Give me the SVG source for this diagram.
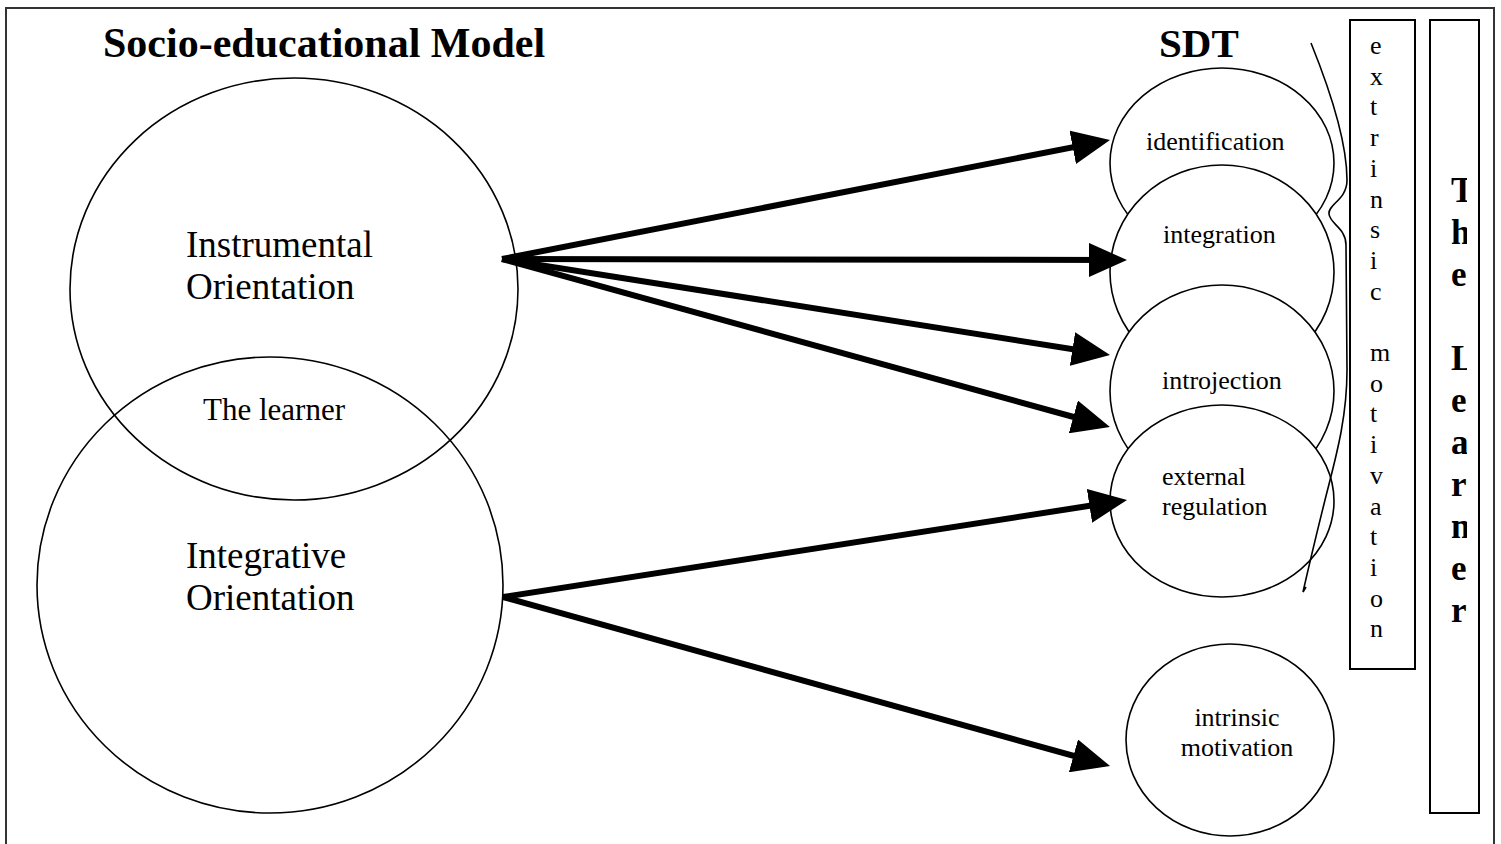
<svg xmlns="http://www.w3.org/2000/svg" width="1501" height="844" viewBox="0 0 1501 844">
<style>
text{font-family:"Liberation Serif","Times New Roman",serif;fill:#000}
.title{font-size:42px;font-weight:bold}
.big{font-size:37px}
.mid{font-size:31px}
.lbl{font-size:26px}
.vert{font-size:26px}
.vb{font-size:35px;font-weight:bold}
.ring{fill:none;stroke:#000;stroke-width:1.6}
.disc{fill:#fff;stroke:#000;stroke-width:1.6}
.box{fill:none;stroke:#000;stroke-width:2}
.arrow{stroke:#000;stroke-width:6;fill:none;marker-end:url(#head)}
</style>
<defs>
<marker id="head" markerUnits="userSpaceOnUse" markerWidth="40" markerHeight="34" refX="23" refY="17" orient="auto">
<path d="M0,0 L38,17 L0,34 Z" fill="#000"/>
</marker>
<clipPath id="learnerClip"><rect x="1431" y="20" width="36" height="793"/></clipPath>
</defs>
<rect x="6" y="8" width="1488" height="850" fill="#fff" stroke="#333" stroke-width="2"/>
<text class="title" x="103" y="57">Socio-educational Model</text>
<text class="title" x="1159" y="57" style="font-size:41px">SDT</text>

<g id="instrumental">
<ellipse class="ring" cx="294" cy="289" rx="224" ry="211"/>
<text class="big" x="186" y="257">Instrumental</text>
<text class="big" x="186" y="299">Orientation</text>
</g>
<g id="integrative">
<ellipse class="ring" cx="270" cy="585" rx="233" ry="228"/>
<text class="big" x="186" y="568">Integrative</text>
<text class="big" x="186" y="610">Orientation</text>
</g>
<g id="learner-overlap">
<text class="mid" x="203" y="420">The learner</text>
</g>

<g id="identification">
<ellipse class="disc" cx="1222" cy="163" rx="112" ry="95"/>
<text class="lbl" x="1146" y="150">identification</text>
</g>
<g id="integration">
<ellipse class="disc" cx="1222" cy="272" rx="112" ry="107"/>
<text class="lbl" x="1163" y="243">integration</text>
</g>
<g id="introjection">
<ellipse class="disc" cx="1222" cy="391" rx="112" ry="106"/>
<text class="lbl" x="1162" y="389">introjection</text>
</g>
<g id="external-regulation">
<ellipse class="disc" cx="1222" cy="501" rx="112" ry="96"/>
<text class="lbl" x="1162" y="485">external</text>
<text class="lbl" x="1162" y="515">regulation</text>
</g>
<g id="intrinsic-motivation">
<ellipse class="disc" cx="1230" cy="740" rx="104" ry="96"/>
<text class="lbl" x="1237" y="726" text-anchor="middle">intrinsic</text>
<text class="lbl" x="1237" y="756" text-anchor="middle">motivation</text>
</g>

<g id="brace">
<path d="M1311,43 C1330,90 1347,140 1347,180 C1347,200 1328,204 1329,214 C1330,224 1346,228 1346,245 L1347,370 C1347,420 1335,460 1325,500 C1315,540 1308,570 1303,592 L1306,587" fill="none" stroke="#000" stroke-width="1.6"/>
</g>

<g id="extrinsic-motivation">
<rect class="box" x="1350" y="20" width="65" height="649"/>
<text class="vert" x="1370" y="54">e</text>
<text class="vert" x="1370" y="84.7">x</text>
<text class="vert" x="1370" y="115.4">t</text>
<text class="vert" x="1370" y="146.1">r</text>
<text class="vert" x="1370" y="176.8">i</text>
<text class="vert" x="1370" y="207.5">n</text>
<text class="vert" x="1370" y="238.2">s</text>
<text class="vert" x="1370" y="268.9">i</text>
<text class="vert" x="1370" y="299.6">c</text>
<text class="vert" x="1370" y="361">m</text>
<text class="vert" x="1370" y="391.7">o</text>
<text class="vert" x="1370" y="422.4">t</text>
<text class="vert" x="1370" y="453.1">i</text>
<text class="vert" x="1370" y="483.8">v</text>
<text class="vert" x="1370" y="514.5">a</text>
<text class="vert" x="1370" y="545.2">t</text>
<text class="vert" x="1370" y="575.9">i</text>
<text class="vert" x="1370" y="606.6">o</text>
<text class="vert" x="1370" y="637.3">n</text>
</g>

<g id="the-learner">
<rect class="box" x="1430" y="20" width="49" height="793"/>
<g clip-path="url(#learnerClip)">
<text class="vb" x="1451" y="202">T</text>
<text class="vb" x="1451" y="244">h</text>
<text class="vb" x="1451" y="286">e</text>
<text class="vb" x="1451" y="370">L</text>
<text class="vb" x="1451" y="412">e</text>
<text class="vb" x="1451" y="454">a</text>
<text class="vb" x="1451" y="496">r</text>
<text class="vb" x="1451" y="538">n</text>
<text class="vb" x="1451" y="580">e</text>
<text class="vb" x="1451" y="622">r</text>
</g>
</g>

<g id="connectors">
<line class="arrow" x1="502" y1="259" x2="1095.3" y2="142.9"/>
<line class="arrow" x1="502" y1="259" x2="1112" y2="260"/>
<line class="arrow" x1="502" y1="259" x2="1095.2" y2="352.7"/>
<line class="arrow" x1="502" y1="259" x2="1095.5" y2="423"/>
<line class="arrow" x1="503" y1="597" x2="1112.2" y2="502.3"/>
<line class="arrow" x1="503" y1="597" x2="1095.6" y2="762"/>
</g>
</svg>
